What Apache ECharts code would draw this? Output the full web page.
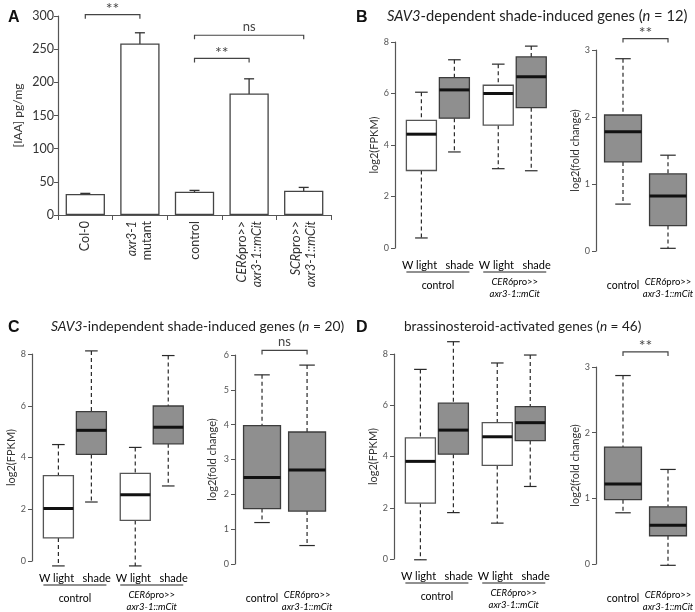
<!DOCTYPE html>
<html>
<head>
<meta charset="utf-8">
<script src="https://cdn.jsdelivr.net/npm/echarts@6/dist/echarts.min.js"></script>
<style>
  html, body { margin: 0; padding: 0; background: #fff; }
  #chart { width: 695px; height: 612px; }
</style>
</head>
<body>
<div id="chart"></div>
<script>
// ---- panel A: IAA content ----
const aCategories = ["Col-0", "axr3-1 mutant", "control", "CER6pro>> axr3-1::mCit", "SCRpro>> axr3-1::mCit"];
const aMean = [31.6, 258.7, 35.1, 183.3, 36.6];
const aErr = [1, 16, 2, 22, 5];
// [from, to, height, text]
const aSig = [[0, 1, 302, "**"], [2, 4, 271, "ns"], [2, 3, 236, "**"]];

// ---- box plots: [min, q1, median, q3, max] ----
const boxCats = ["W light", "shade", "W light", "shade"];
const groupCats = ["control", "CER6pro>> axr3-1::mCit"];
const bFpkm = [[0.39, 3.01, 4.42, 4.96, 6.05], [3.73, 5.04, 6.14, 6.62, 7.31], [3.08, 4.77, 6.0, 6.32, 7.14], [3.0, 5.45, 6.65, 7.42, 7.84]];
const bFold = [[0.70, 1.33, 1.78, 2.03, 2.87], [0.04, 0.38, 0.82, 1.15, 1.43]];
const cFpkm = [[-0.19, 0.89, 2.03, 3.30, 4.50], [2.28, 4.12, 5.05, 5.77, 8.12], [-0.19, 1.57, 2.56, 3.39, 4.39], [2.90, 4.53, 5.17, 5.99, 7.94]];
const cFold = [[1.19, 1.59, 2.48, 3.97, 5.43], [0.53, 1.52, 2.70, 3.79, 5.71]];
const dFpkm = [[-0.03, 2.18, 3.81, 4.73, 7.40], [1.81, 4.09, 5.03, 6.08, 8.48], [1.40, 3.65, 4.77, 5.32, 7.65], [2.83, 4.62, 5.32, 5.95, 7.96]];
const dFold = [[0.78, 0.98, 1.22, 1.78, 2.87], [-0.02, 0.43, 0.59, 0.87, 1.44]];
const bSig = [0, 1, 3.17, "**"];
const cSig = [0, 1, 6.13, "ns"];
const dSig = [0, 1, 3.23, "**"];

const FONT = "Lato";
const TXT = "#333";
const AX = "#555";
const GRAY = "#8f8f8f";

// rich text for the labels with italic gene names
const rich = {
  n: { fontFamily: FONT, fontSize: 12.5, color: TXT },
  i: { fontFamily: FONT, fontSize: 12.5, color: TXT, fontStyle: "italic" },
  sn: { fontFamily: FONT, fontSize: 9.5, color: TXT },
  si: { fontFamily: FONT, fontSize: 9.5, color: TXT, fontStyle: "italic" },
  c: { fontFamily: FONT, fontSize: 10.5, color: TXT },
  w: { fontFamily: FONT, fontSize: 11, color: TXT },
};
const aLabel = {
  "Col-0": "{n|Col-0}",
  "axr3-1 mutant": "{i|axr3-1}\n{n|mutant}",
  "control": "{n|control}",
  "CER6pro>> axr3-1::mCit": "{i|CER6}{n|pro>>}\n{i|axr3-1::mCit}",
  "SCRpro>> axr3-1::mCit": "{i|SCR}{n|pro>>}\n{i|axr3-1::mCit}",
};
const smallLabel = {
  "control": "{c|control}",
  "CER6pro>> axr3-1::mCit": "{si|CER6}{sn|pro>>}\n{si|axr3-1::mCit}",
};

// x positions of the boxes on the hidden value axes
const xPosL = [1, 2, 3.33, 4.33];
const xPosR = [1, 2];
const bwL = 0.91, bwR = 0.82;

const chart = echarts.init(document.getElementById("chart"));

function yAxis(idx, min, max, interval, name, gap, big) {
  return {
    type: "value", gridIndex: idx, min: min, max: max, interval: interval,
    name: name, nameLocation: "middle", nameGap: gap,
    nameTextStyle: { fontFamily: FONT, fontSize: big ? 12 : 11, color: TXT },
    axisLine: { show: true, lineStyle: { color: AX, width: 1.2 } },
    axisTick: { show: true, length: 4, lineStyle: { color: AX } },
    axisLabel: { fontFamily: FONT, fontSize: big ? 12.5 : 9, color: big ? "#333" : "#555", margin: big ? 4 : 6 },
    splitLine: { show: false },
  };
}
function hiddenX(idx, min, max) {
  return { type: "value", gridIndex: idx, min: min, max: max, show: false };
}

function boxSeries(idx, rows, xs, bw, fills, right) {
  return {
    type: "custom", xAxisIndex: idx, yAxisIndex: idx, silent: true,
    data: rows.map((r, i) => [xs[i]].concat(r)),
    encode: { x: 0, y: [1, 2, 3, 4, 5] },
    renderItem: function (params, api) {
      const i = params.dataIndex;
      const x = api.value(0);
      const p = [1, 2, 3, 4, 5].map(k => api.coord([x, api.value(k)]));
      const cx = p[0][0];
      const w = api.size([bw, 0])[0];
      const cap = w * 0.42;
      const cs = params.coordSys;
      const bottom = cs.y + cs.height;
      const dash = { stroke: "#2a2a2a", lineWidth: 1.2, lineDash: [4, 3] };
      const solid = { stroke: "#2a2a2a", lineWidth: 1.2 };
      const kids = [
        { type: "line", shape: { x1: cx, y1: p[4][1], x2: cx, y2: p[3][1] }, style: dash },
        { type: "line", shape: { x1: cx, y1: p[1][1], x2: cx, y2: p[0][1] }, style: dash },
        { type: "line", shape: { x1: cx - cap / 2, y1: p[4][1], x2: cx + cap / 2, y2: p[4][1] }, style: solid },
        { type: "line", shape: { x1: cx - cap / 2, y1: p[0][1], x2: cx + cap / 2, y2: p[0][1] }, style: solid },
        { type: "rect", shape: { x: cx - w / 2, y: p[3][1], width: w, height: p[1][1] - p[3][1] },
          style: { fill: fills[i], stroke: fills[i] === "#fff" ? "#555" : "#3c3c3c", lineWidth: 1.3 } },
        { type: "line", shape: { x1: cx - w / 2, y1: p[2][1], x2: cx + w / 2, y2: p[2][1] },
          style: { stroke: "#111", lineWidth: 3 } },
      ];
      if (right) {
        const g = groupCats[i];
        kids.push({ type: "text", x: cx, y: g === "control" ? bottom + 35 : bottom + 37,
          style: { text: smallLabel[g], rich: rich, align: "center", verticalAlign: "middle", lineHeight: 12 } });
      }
      return { type: "group", children: kids };
    },
  };
}

// underline + condition labels below the FPKM plots
function groupSeries(idx, xs, bw) {
  return {
    type: "custom", xAxisIndex: idx, yAxisIndex: idx, silent: true,
    data: groupCats.map((g, k) => [xs[2 * k] - bw / 2, xs[2 * k + 1] + bw / 2]),
    renderItem: function (params, api) {
      const k = params.dataIndex;
      const cs = params.coordSys;
      const bottom = cs.y + cs.height;
      const a = api.coord([api.value(0), 0])[0];
      const b = api.coord([api.value(1), 0])[0];
      const g = groupCats[k];
      return {
        type: "group", children: [
          { type: "text", x: (a + b) / 2, y: bottom + 17,
            style: { text: "{w|" + boxCats[2 * k] + "   " + boxCats[2 * k + 1] + "}", rich: rich, align: "center", verticalAlign: "middle" } },
          { type: "line", shape: { x1: a, y1: bottom + 24, x2: b, y2: bottom + 24 }, style: { stroke: "#222", lineWidth: 1.2 } },
          { type: "text", x: (a + b) / 2, y: g === "control" ? bottom + 38 : bottom + 40,
            style: { text: smallLabel[g], rich: rich, align: "center", verticalAlign: "middle", lineHeight: 12 } },
        ],
      };
    },
  };
}

function sigSeries(idx, rows, xs) {
  return {
    type: "custom", xAxisIndex: idx, yAxisIndex: idx, silent: true,
    data: rows.map(r => [xs ? xs[r[0]] : r[0], xs ? xs[r[1]] : r[1], r[2]]),
    renderItem: function (params, api) {
      const p1 = api.coord([api.value(0), api.value(2)]);
      const p2 = api.coord([api.value(1), api.value(2)]);
      const t = rows[params.dataIndex][3];
      return {
        type: "group", children: [
          { type: "polyline", shape: { points: [[p1[0], p1[1] + 4], p1, p2, [p2[0], p2[1] + 4]] },
            style: { stroke: "#444", lineWidth: 1.2, fill: null } },
          { type: "text", x: (p1[0] + p2[0]) / 2, y: p1[1] - (t === "ns" ? 2 : -2),
            style: { text: t, fontFamily: FONT, fontSize: t === "ns" ? 13 : 16, fill: "#444", align: "center", verticalAlign: "bottom" } },
        ],
      };
    },
  };
}

const grids = [
  { left: 58, top: 16, width: 273, height: 199 },   // A
  { left: 395, top: 42, width: 160, height: 206 },  // B left
  { left: 596, top: 50, width: 99, height: 201 },   // B right
  { left: 32, top: 354, width: 160, height: 207 },  // C left
  { left: 235, top: 355, width: 100, height: 209 }, // C right
  { left: 394, top: 354, width: 160, height: 205 }, // D left
  { left: 596, top: 367, width: 99, height: 197 },  // D right
];

function titleStyle(size) {
  const base = { fontFamily: FONT, fontSize: size, color: "#222", fontWeight: "normal" };
  return {
    fontWeight: "normal",
    rich: { n: base, i: Object.assign({}, base, { fontStyle: "italic" }) },
  };
}
const letterStyle = { fontFamily: "Liberation Sans", fontSize: 16, fontWeight: "bold", color: "#111" };

const option = {
  backgroundColor: "#fff",
  animation: false,
  title: [
    { text: "A", left: 3, top: 5, textStyle: letterStyle },
    { text: "B", left: 351, top: 5, textStyle: letterStyle },
    { text: "C", left: 3, top: 315, textStyle: letterStyle },
    { text: "D", left: 351, top: 315, textStyle: letterStyle },
    { text: "{i|SAV3}{n|-dependent shade-induced genes (}{i|n}{n| = 12)}", left: 382, top: 4, textStyle: titleStyle(14.7) },
    { text: "{i|SAV3}{n|-independent shade-induced genes (}{i|n}{n| = 20)}", left: 46, top: 315, textStyle: titleStyle(13.8) },
    { text: "{n|brassinosteroid-activated genes (}{i|n}{n| = 46)}", left: 399, top: 315, textStyle: titleStyle(13.6) },
  ],
  grid: grids,
  xAxis: [
    {
      type: "category", gridIndex: 0, data: aCategories,
      axisLine: { lineStyle: { color: AX, width: 1.2 } },
      axisTick: { show: true, interval: 0, length: 5, lineStyle: { color: AX } },
      axisLabel: { interval: 0, rotate: 90, margin: 6, formatter: v => aLabel[v], rich: rich, lineHeight: 15 },
    },
    hiddenX(1, 0.2, 5.05),
    hiddenX(2, 0.4, 2.6),
    hiddenX(3, 0.2, 5.05),
    hiddenX(4, 0.4, 2.62),
    hiddenX(5, 0.2, 5.05),
    hiddenX(6, 0.4, 2.6),
  ],
  yAxis: [
    yAxis(0, 0, 300, 50, "[IAA] pg/mg", 34, true),
    yAxis(1, 0, 8, 2, "log2(FPKM)", 14),
    yAxis(2, 0, 3, 1, "log2(fold change)", 13),
    yAxis(3, 0, 8, 2, "log2(FPKM)", 11),
    yAxis(4, 0, 6, 1, "log2(fold change)", 17),
    yAxis(5, 0, 8, 2, "log2(FPKM)", 13),
    yAxis(6, 0, 3, 1, "log2(fold change)", 13),
  ],
  series: [
    {
      type: "bar", xAxisIndex: 0, yAxisIndex: 0, data: aMean, barWidth: "72%", silent: true,
      itemStyle: { color: "#fff", borderColor: "#444", borderWidth: 1.3 },
    },
    {
      type: "custom", xAxisIndex: 0, yAxisIndex: 0, silent: true,
      data: aMean.map((m, i) => [i, m - aErr[i], m + aErr[i]]),
      renderItem: function (params, api) {
        const lo = api.coord([api.value(0), api.value(1)]);
        const hi = api.coord([api.value(0), api.value(2)]);
        const s = { stroke: "#333", lineWidth: 1.3 };
        return {
          type: "group", children: [
            { type: "line", shape: { x1: lo[0], y1: lo[1], x2: hi[0], y2: hi[1] }, style: s },
            { type: "line", shape: { x1: lo[0] - 5, y1: lo[1], x2: lo[0] + 5, y2: lo[1] }, style: s },
            { type: "line", shape: { x1: hi[0] - 5, y1: hi[1], x2: hi[0] + 5, y2: hi[1] }, style: s },
          ],
        };
      },
    },
    sigSeries(0, aSig, null),

    boxSeries(1, bFpkm, xPosL, bwL, ["#fff", GRAY, "#fff", GRAY], false),
    groupSeries(1, xPosL, bwL),
    boxSeries(2, bFold, xPosR, bwR, [GRAY, GRAY], true),
    sigSeries(2, [bSig], xPosR),

    boxSeries(3, cFpkm, xPosL, bwL, ["#fff", GRAY, "#fff", GRAY], false),
    groupSeries(3, xPosL, bwL),
    boxSeries(4, cFold, xPosR, bwR, [GRAY, GRAY], true),
    sigSeries(4, [cSig], xPosR),

    boxSeries(5, dFpkm, xPosL, bwL, ["#fff", GRAY, "#fff", GRAY], false),
    groupSeries(5, xPosL, bwL),
    boxSeries(6, dFold, xPosR, bwR, [GRAY, GRAY], true),
    sigSeries(6, [dSig], xPosR),
  ],
};
chart.setOption(option);
</script>
</body>
</html>
